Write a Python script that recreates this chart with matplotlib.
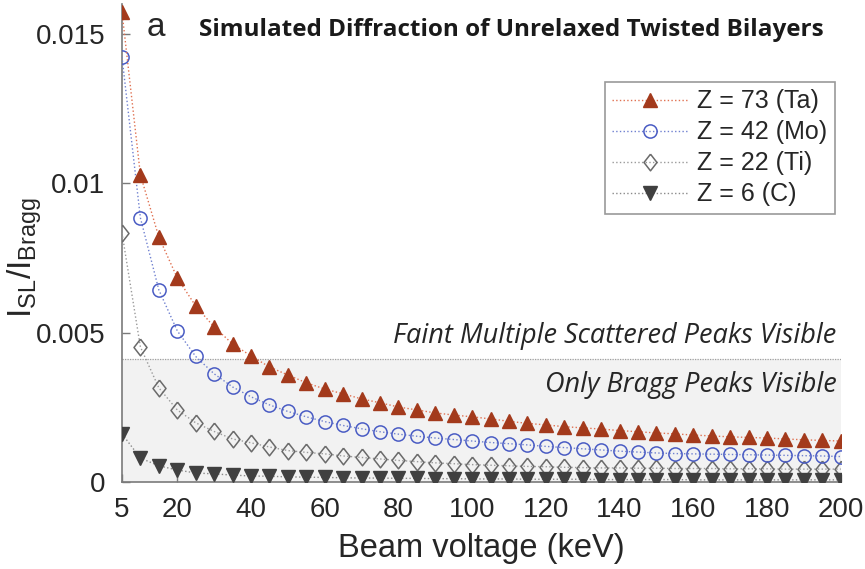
import matplotlib
matplotlib.use("Agg")
import matplotlib.pyplot as plt
import numpy as np

plt.rcParams['font.family'] = ['Liberation Sans', 'DejaVu Sans']
plt.rcParams['mathtext.fontset'] = 'custom'
plt.rcParams['mathtext.rm'] = 'Liberation Sans'
plt.rcParams['mathtext.it'] = 'Liberation Sans:italic'

voltage = list(range(5, 201, 5))

ta_73 = [0.01574, 0.01028, 0.00820, 0.00683, 0.00589, 0.00519, 0.00462, 0.00422,
         0.00385, 0.00358, 0.00332, 0.00311, 0.00295, 0.00278, 0.00265, 0.00251,
         0.00241, 0.00231, 0.00224, 0.00218, 0.00211, 0.00203, 0.00196, 0.00191,
         0.00185, 0.00181, 0.00177, 0.00172, 0.00168, 0.00164, 0.00161, 0.00157,
         0.00154, 0.00151, 0.00149, 0.00147, 0.00144, 0.00141, 0.00139, 0.00137]

mo_42 = [0.01423, 0.00884, 0.00643, 0.00506, 0.00420, 0.00362, 0.00318, 0.00285,
         0.00258, 0.00236, 0.00218, 0.00202, 0.00189, 0.00178, 0.00168, 0.00160,
         0.00153, 0.00147, 0.00142, 0.00137, 0.00132, 0.00128, 0.00124, 0.00119,
         0.00115, 0.00111, 0.00107, 0.00103, 0.00100, 0.00097, 0.00095, 0.00094,
         0.00093, 0.00092, 0.00091, 0.00090, 0.00089, 0.00088, 0.00087, 0.00085]

ti_22 = [0.00834, 0.00452, 0.00315, 0.00241, 0.00198, 0.00169, 0.00144, 0.00131,
         0.00117, 0.00105, 0.00099, 0.00094, 0.00087, 0.00082, 0.00077, 0.00072,
         0.00068, 0.00064, 0.00061, 0.00058, 0.00056, 0.00054, 0.00052, 0.00051,
         0.00049, 0.00048, 0.00047, 0.00047, 0.00046, 0.00046, 0.00045, 0.00045,
         0.00045, 0.00044, 0.00044, 0.00044, 0.00043, 0.00043, 0.00043, 0.00043]

c_6 = [0.00161, 0.00080, 0.00054, 0.00040, 0.00030, 0.00027, 0.00023, 0.00020,
       0.00019, 0.00017, 0.00016, 0.00015, 0.00014, 0.00013, 0.00013, 0.00012,
       0.00012, 0.00011, 0.00011, 0.00010, 0.00010, 0.00010, 0.00009, 0.00009,
       0.00009, 0.00009, 0.00008, 0.00008, 0.00008, 0.00008, 0.00008, 0.00007,
       0.00007, 0.00007, 0.00007, 0.00007, 0.00007, 0.00007, 0.00007, 0.00007]

labels = ['Z = 73 (Ta)', 'Z = 42 (Mo)', 'Z = 22 (Ti)', 'Z = 6 (C)']
xticks = [5, 20, 40, 60, 80, 100, 120, 140, 160, 180, 200]
yticks = [0, 0.005, 0.01, 0.015]
yticklabels = ['0', '0.005', '0.01', '0.015']
threshold = 0.0041

fig = plt.figure(figsize=(8.65, 5.69), dpi=100)
ax = fig.add_axes([0.141, 0.153, 0.831, 0.840])

ax.set_xlim(5, 200)
ax.set_ylim(0, 0.016)

# shaded region
ax.fill_between([5, 200], [0, 0], [threshold, threshold], color='#f2f2f2', lw=0, zorder=0)
ax.plot([5, 200], [threshold, threshold], color='#a0a0a0', lw=0.9, ls=(0, (1, 1)), zorder=1)

diamond = [(0, 1), (0.78, 0), (0, -1), (-0.78, 0), (0, 1)]

ax.plot(voltage, ta_73, ls=':', lw=1.0, color='#e07050', marker='^', ms=10.5,
        mfc='#a33a1c', mec='#a33a1c', label=labels[0], zorder=5)
ax.plot(voltage, mo_42, ls=':', lw=1.0, color='#6f80d0', marker='o', ms=9.5,
        mfc='none', mec='#4a5cc4', mew=1.1, label=labels[1], zorder=4)
ax.plot(voltage, ti_22, ls=':', lw=1.0, color='#9a9a9a', marker=diamond, ms=12,
        mfc='none', mec='#6a6a6a', mew=1.1, label=labels[2], zorder=3)
ax.plot(voltage, c_6, ls=':', lw=1.0, color='#8a8a8a', marker='v', ms=10.5,
        mfc='#404040', mec='#404040', label=labels[3], zorder=3)

for s in ['top', 'right']:
    ax.spines[s].set_visible(False)
for s in ['left', 'bottom']:
    ax.spines[s].set_color('#7a7a7a')
    ax.spines[s].set_linewidth(1.2)

ax.set_xticks(xticks)
ax.set_yticks(yticks)
ax.set_yticklabels(yticklabels)
ax.tick_params(direction='in', length=6, width=1.0, color='#7a7a7a',
               labelsize=20, labelcolor='#262626')
ax.tick_params(axis='y', pad=12)
ax.tick_params(axis='x', pad=11)

ax.set_xlabel('Beam voltage (keV)', fontsize=23.5, color='#262626', labelpad=7)
ax.set_ylabel(r'$\mathregular{I_{SL}/I_{Bragg}}$', fontsize=24, color='#262626')
ax.yaxis.set_label_coords(-0.108, 0.47)

leg = ax.legend(loc='upper right', bbox_to_anchor=(0.992, 0.837), fontsize=18,
                frameon=True, fancybox=False, edgecolor='#808080', handlelength=3.0,
                borderpad=0.3, labelspacing=0.28, handletextpad=0.4, borderaxespad=0)
leg.get_frame().set_linewidth(1.2)
for t in leg.get_texts():
    t.set_color('#262626')

fig.text(147 / 865, 1 - 28 / 569, 'a', fontsize=24, color='#262626',
         va='center', ha='left')
fig.text(199 / 865, 1 - 30 / 569, 'Simulated Diffraction of Unrelaxed Twisted Bilayers',
         fontsize=17.5, fontweight='bold', family=['Open Sans', 'DejaVu Sans'],
         color='#1a1a1a', va='center', ha='left')

ax.text(0.994, threshold + 0.00078, 'Faint Multiple Scattered Peaks Visible',
        transform=ax.get_yaxis_transform(), fontsize=19.5, style='italic',
        family=['Open Sans', 'DejaVu Sans'], color='#262626', ha='right', va='center')
ax.text(0.994, threshold - 0.00085, 'Only Bragg Peaks Visible',
        transform=ax.get_yaxis_transform(), fontsize=19.5, style='italic',
        family=['Open Sans', 'DejaVu Sans'], color='#262626', ha='right', va='center')

fig.savefig('out.png', dpi=100)
